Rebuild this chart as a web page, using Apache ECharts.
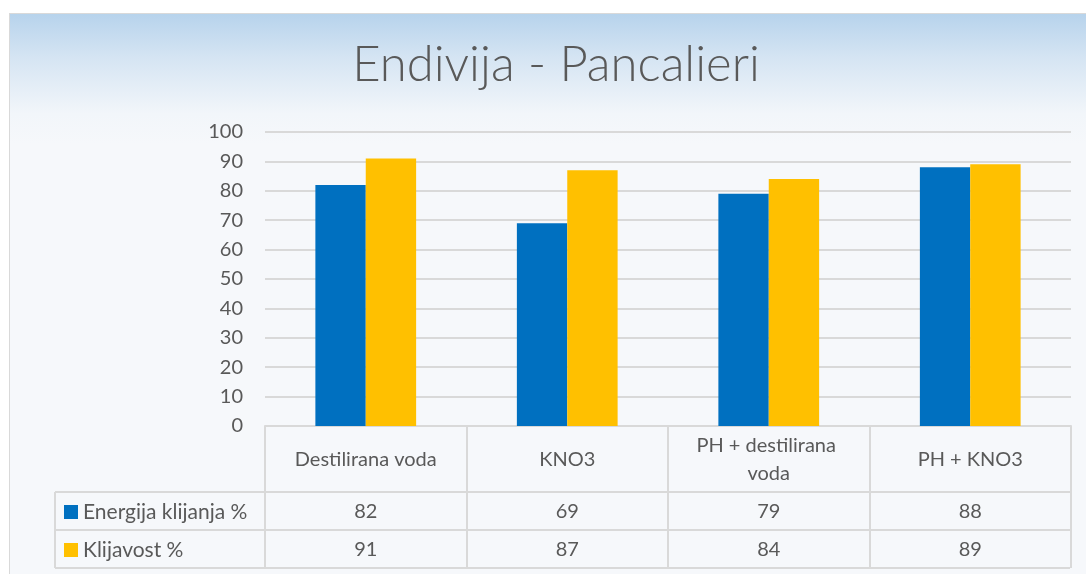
<!DOCTYPE html>
<html>
<head>
<meta charset="UTF-8" />
<title>Endivija - Pancalieri</title>
<style>
    html, body { margin: 0; padding: 0; background: #fff; overflow: hidden; }
    #main {
        position: absolute; left: 9px; top: 13px;
        width: 1092px; height: 570px;
        border: 1px solid #d9d9d9;
        background: linear-gradient(to bottom, #b7d3ec 0px, #d6e5f3 45px, #f2f6fa 100px, #f6f8fb 130px, #f6f8fb 100%);
    }
</style>
</head>
<body>
<div id="main"></div>
<script src="https://cdn.jsdelivr.net/npm/echarts@6/dist/echarts.min.js"></script>
<script type="text/javascript">
    // podaci
    var categories = ['Destilirana voda', 'KNO3', 'PH + destilirana voda', 'PH + KNO3'];
    var energija = [82, 69, 79, 88];
    var klijavost = [91, 87, 84, 89];
    var seriesNames = ['Energija klijanja %', 'Klijavost %'];
    var yMin = 0, yMax = 100, yStep = 10;

    var txt = '#595959';
    var lineCol = '#d9d9d9';
    var font = 'Lato';
    var fs = 20;

    // raspored tablice (div koordinate)
    var gridLeft = 255, gridTop = 118, gridRight = 31, gridBottom = 158;
    var tableLeft = 45, tableRight = 1060;
    var rowLines = [478, 516, 554];

    var myChart = echarts.init(document.getElementById('main'));

    function rowAxis(values, margin) {
        return {
            type: 'category',
            gridIndex: 0,
            position: 'bottom',
            data: values.map(String),
            axisLine: { show: false, onZero: false },
            axisTick: { show: false },
            splitLine: { show: false },
            axisLabel: {
                interval: 0, margin: margin, verticalAlign: 'middle',
                color: txt, fontSize: fs, fontFamily: font
            }
        };
    }

    var graphics = [];
    rowLines.forEach(function (y) {
        graphics.push({
            type: 'line', silent: true,
            shape: { x1: tableLeft, y1: y, x2: tableRight, y2: y },
            style: { stroke: lineCol, lineWidth: 2 }
        });
    });
    graphics.push({
        type: 'line', silent: true,
        shape: { x1: tableLeft, y1: rowLines[0], x2: tableLeft, y2: rowLines[2] },
        style: { stroke: lineCol, lineWidth: 2 }
    });

    var option = {
        backgroundColor: 'transparent',
        animation: false,
        title: {
            text: 'Endivija - Pancalieri',
            left: 'center',
            top: 22,
            textStyle: { color: txt, fontSize: 49, fontWeight: 300, fontFamily: font }
        },
        legend: {
            data: seriesNames,
            orient: 'vertical',
            left: 49,
            top: 482,
            icon: 'rect',
            itemWidth: 14,
            itemHeight: 14,
            itemGap: 16,
            selectedMode: false,
            textStyle: { color: txt, fontSize: 21, fontFamily: font, lineHeight: 22 }
        },
        grid: { left: gridLeft, right: gridRight, top: gridTop, bottom: gridBottom },
        xAxis: [
            {
                type: 'category',
                position: 'bottom',
                data: categories,
                axisLine: { show: true, onZero: false, lineStyle: { color: lineCol, width: 2 } },
                axisTick: { show: true, alignWithLabel: false, length: 142, lineStyle: { color: lineCol, width: 2 } },
                axisLabel: {
                    interval: 0, margin: 34, verticalAlign: 'middle',
                    width: 165, overflow: 'break', lineHeight: 28,
                    color: txt, fontSize: fs, fontFamily: font
                }
            },
            rowAxis(energija, 86),
            rowAxis(klijavost, 124)
        ],
        yAxis: {
            type: 'value',
            min: yMin, max: yMax, interval: yStep,
            axisLine: { show: false },
            axisTick: { show: false },
            axisLabel: { color: txt, fontSize: fs, fontFamily: font, margin: 22 },
            splitLine: { lineStyle: { color: lineCol, width: 2 } }
        },
        series: [
            {
                name: seriesNames[0],
                type: 'bar',
                data: energija,
                barGap: '0%',
                barCategoryGap: '50%',
                itemStyle: { color: '#0070c0' }
            },
            {
                name: seriesNames[1],
                type: 'bar',
                data: klijavost,
                barGap: '0%',
                barCategoryGap: '50%',
                itemStyle: { color: '#ffc000' }
            }
        ],
        graphic: graphics
    };

    myChart.setOption(option);
</script>
</body>
</html>
